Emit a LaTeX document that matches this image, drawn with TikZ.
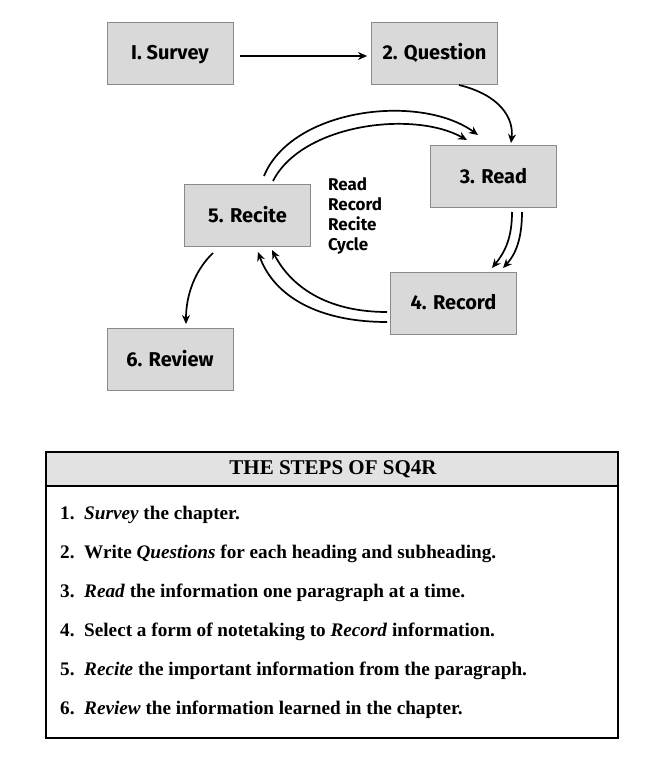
\documentclass[tikz,border=0pt]{standalone}
\usepackage{fontspec}
\setmainfont{Liberation Serif}
\newfontfamily\boxfont{Fira Sans}
\usetikzlibrary{arrows.meta}
\definecolor{boxgray}{HTML}{D9D9D9}
\definecolor{boxedge}{HTML}{8A8A8A}
\definecolor{headgray}{HTML}{E2E2E2}
\begin{document}
\begin{tikzpicture}[x=1pt,y=-1pt,
  stepbox/.style={draw=boxedge,line width=0.8pt,fill=boxgray,minimum width=126pt,minimum height=62pt,inner sep=0pt,text height=13.5pt,text depth=0pt,font=\boxfont\bfseries\fontsize{20}{24}\selectfont},
  conn/.style={line width=1.7pt,-{Stealth[length=9pt,width=8pt]}},
  item/.style={anchor=base west,inner sep=0pt,font=\bfseries\fontsize{19.2}{22}\selectfont}]
\useasboundingbox (0,0) rectangle (663,784);
\node[stepbox] (survey) at (170,53) {I. Survey};
\node[stepbox] (question) at (434.5,53) {2. Question};
\node[stepbox] (read) at (493.5,176.5) {3. Read};
\node[stepbox] (recite) at (247.5,215.5) {5. Recite};
\node[stepbox] (record) at (453.5,303) {4. Record};
\node[stepbox] (review) at (170,359.5) {6. Review};
\node[anchor=north west,align=left,inner sep=0pt,font=\boxfont\bfseries\fontsize{17}{20}\selectfont] (cycle) at (328,177) {Read\\Record\\Recite\\Cycle};
% connectors
\coordinate (s1) at (240,56);
\coordinate (q1) at (367,56);
\draw[conn,line width=2.6pt] (s1) -- (q1);
\coordinate (qa) at (459,85);
\coordinate (ra) at (511,143);
\draw[conn] (qa) .. controls (500,95) and (514,118) .. (ra);
\coordinate (c1) at (264,176);
\coordinate (c2) at (273,181);
\coordinate (r1) at (478,135);
\coordinate (r2) at (467,140);
\draw[conn] (c1) .. controls (292,108) and (420,93) .. (r1);
\draw[conn] (c2) .. controls (302,124) and (413,110) .. (r2);
\coordinate (d1) at (512,212);
\coordinate (d2) at (522,212);
\coordinate (e1) at (492,268);
\coordinate (e2) at (503,268);
\draw[conn] (d1) .. controls (512,238) and (505,252) .. (e1);
\draw[conn] (d2) .. controls (522,240) and (515,255) .. (e2);
\coordinate (f1) at (387,312);
\coordinate (f2) at (387,322);
\coordinate (g1) at (272,250);
\coordinate (g2) at (258,252);
\draw[conn] (f1) .. controls (325,312) and (290,285) .. (g1);
\draw[conn] (f2) .. controls (318,322) and (274,296) .. (g2);
\coordinate (h1) at (213,253);
\coordinate (h2) at (186,324);
\draw[conn] (h1) .. controls (195,270) and (186,295) .. (h2);
% table
\path[fill=headgray] (46,452) rectangle (618,486);
\draw[line width=1.6pt] (46,486) -- (618,486);
\draw[line width=1.8pt] (46,452) rectangle (618,738);
\node[font=\bfseries\fontsize{21}{24}\selectfont,inner sep=0pt] (title) at (333,469) {THE STEPS OF SQ4R};
\node[item] (i1) at (60,519) {1.\enspace\textit{Survey} the chapter.};
\node[item] (i2) at (60,558) {2.\enspace Write \textit{Questions} for each heading and subheading.};
\node[item] (i3) at (60,597) {3.\enspace\textit{Read} the information one paragraph at a time.};
\node[item] (i4) at (60,636) {4.\enspace Select a form of notetaking to \textit{Record} information.};
\node[item] (i5) at (60,675) {5.\enspace\textit{Recite} the important information from the paragraph.};
\node[item] (i6) at (60,714) {6.\enspace\textit{Review} the information learned in the chapter.};
\end{tikzpicture}
\end{document}
